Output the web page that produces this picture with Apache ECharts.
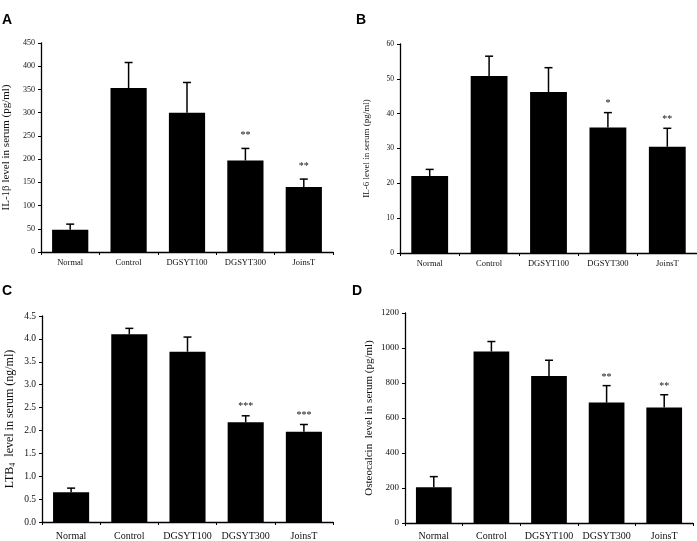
<!DOCTYPE html>
<html><head><meta charset="utf-8">
<script src="https://cdn.jsdelivr.net/npm/echarts@6/dist/echarts.min.js"></script>
<style>html,body{margin:0;padding:0;background:#fff}#c{width:697px;height:541px}</style>
</head><body><div id="c"></div>
<script>
const categories = ['Normal','Control','DGSYT100','DGSYT300','JoinsT'];

const il1bMean = [48, 353, 300, 197, 140];
const il1bErr  = [12, 55, 65, 26, 17];
const il1bSig  = ['', '', '', '**', '**'];

const il6Mean = [22.1, 50.8, 46.2, 36.0, 30.5];
const il6Err  = [1.9, 5.7, 7.0, 4.3, 5.3];
const il6Sig  = ['', '', '', '*', '**'];

const ltb4Mean = [0.65, 4.10, 3.72, 2.18, 1.97];
const ltb4Err  = [0.09, 0.13, 0.32, 0.14, 0.16];
const ltb4Sig  = ['', '', '', '***', '***'];

const osteoMean = [205, 980, 840, 688, 660];
const osteoErr  = [60, 57, 90, 97, 73];
const osteoSig  = ['', '', '', '**', '**'];

const panelLetters = ['A','B','C','D'];

const serif = 'Liberation Serif';
const panels = [
  {mean: il1bMean, err: il1bErr, sig: il1bSig, max: 450, interval: 50, fmt: v => v,
   name: 'IL-1β level in serum (pg/ml)', nameSize: 11, nameGap: 29, tickSize: 8, catSize: 8.5, catMargin: 6, starGap: 13,
   grid: {left: 41, top: 43, width: 292, height: 209}},
  {mean: il6Mean, err: il6Err, sig: il6Sig, max: 60, interval: 10, fmt: v => v,
   name: 'IL-6 level in serum (pg/ml)', nameSize: 9, nameGap: 29, tickSize: 7.5, catSize: 8.5, catMargin: 6, starGap: 9,
   grid: {left: 400, top: 44, width: 297, height: 209}},
  {mean: ltb4Mean, err: ltb4Err, sig: ltb4Sig, max: 4.5, interval: 0.5, fmt: v => v.toFixed(1),
   name: 'LTB{sub|4}  level in serum (ng/ml)', nameSize: 12, nameGap: 25, tickSize: 9.5, catSize: 10, catMargin: 9, starGap: 9,
   grid: {left: 42, top: 316, width: 291, height: 206}},
  {mean: osteoMean, err: osteoErr, sig: osteoSig, max: 1200, interval: 200, fmt: v => v,
   name: 'Osteocalcin  level in serum (pg/ml)', nameSize: 11, nameGap: 30, tickSize: 9, catSize: 10, catMargin: 8, starGap: 8,
   grid: {left: 405, top: 313, width: 288, height: 211}}
];

const grid = [], xAxis = [], yAxis = [], series = [];
panels.forEach((p, i) => {
  grid.push(Object.assign({}, p.grid));
  xAxis.push({
    type: 'category', gridIndex: i, data: categories,
    axisLine: {lineStyle: {color: '#000', width: 1.3}},
    axisTick: {show: true, inside: false, length: 3, lineStyle: {color: '#000'}},
    axisLabel: {color: '#111', fontFamily: serif, fontSize: p.catSize, margin: p.catMargin, interval: 0}
  });
  yAxis.push({
    type: 'value', gridIndex: i, min: 0, max: p.max, interval: p.interval,
    name: p.name, nameLocation: 'middle', nameGap: p.nameGap,
    nameTextStyle: {color: '#111', fontFamily: serif, fontSize: p.nameSize,
      rich: {sub: {fontFamily: serif, fontSize: 8, color: '#111', padding: [6, 0, 0, 0]}}},
    splitLine: {show: false},
    axisLine: {show: true, lineStyle: {color: '#000', width: 1.3}},
    axisTick: {show: true, inside: false, length: 3, lineStyle: {color: '#000'}},
    axisLabel: {color: '#111', fontFamily: serif, fontSize: p.tickSize, margin: 6, formatter: p.fmt}
  });
  series.push({
    type: 'bar', xAxisIndex: i, yAxisIndex: i, data: p.mean,
    barCategoryGap: '38%',
    itemStyle: {color: '#000'}, silent: true
  });
  series.push({
    type: 'custom', xAxisIndex: i, yAxisIndex: i, silent: true, z: 5,
    data: p.mean.map((m, k) => [k, m, m + p.err[k]]),
    renderItem: (params, api) => {
      const k = api.value(0);
      const base = api.coord([k, api.value(1)]);
      const top = api.coord([k, api.value(2)]);
      const cap = 4;
      const children = [
        {type: 'line', shape: {x1: base[0], y1: base[1], x2: top[0], y2: top[1]}, style: {stroke: '#000', lineWidth: 1.5}},
        {type: 'line', shape: {x1: top[0] - cap, y1: top[1], x2: top[0] + cap, y2: top[1]}, style: {stroke: '#000', lineWidth: 1.5}}
      ];
      const s = p.sig[params.dataIndex];
      if (s) children.push({type: 'text', style: {text: s, x: top[0], y: top[1] - p.starGap, align: 'center', verticalAlign: 'middle',
        fontFamily: serif, fontSize: 10, fill: '#111'}});
      return {type: 'group', children};
    }
  });
});

const letterPos = [[2, 13], [356, 13], [2, 284], [352, 284]];
const graphic = panelLetters.map((t, i) => ({
  type: 'text', left: letterPos[i][0], top: letterPos[i][1],
  style: {text: t, fontFamily: 'Liberation Sans', fontWeight: 'bold', fontSize: 14, fill: '#000'}
}));

const chart = echarts.init(document.getElementById('c'), null, {renderer: 'canvas'});
chart.setOption({animation: false, backgroundColor: '#fff', grid, xAxis, yAxis, series, graphic});
</script></body></html>
